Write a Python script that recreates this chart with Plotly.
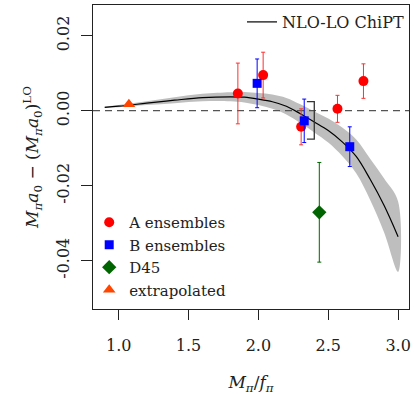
import plotly.graph_objects as go

# ---- data ----
fit_x = [0.9, 1.0, 1.2, 1.4, 1.6, 1.8, 1.9, 2.0, 2.1, 2.2, 2.3, 2.4, 2.5, 2.6, 2.7, 2.8, 2.9, 3.0]
fit_y = [0.0009, 0.0012, 0.0020, 0.0028, 0.0035, 0.0037, 0.0036, 0.0031, 0.0024, 0.0012,
         -0.0008, -0.0030, -0.0053, -0.0083, -0.0122, -0.0183, -0.0253, -0.0336]
fit_err = [0.0002, 0.0003, 0.0005, 0.0008, 0.0010, 0.0012, 0.0014, 0.0016, 0.0019, 0.0022,
           0.0025, 0.0028, 0.0032, 0.0038, 0.0045, 0.0055, 0.0072, 0.0094]

a_x = [1.853, 2.034, 2.306, 2.566, 2.752]
a_y = [0.0046, 0.0095, -0.0043, 0.0005, 0.0079]
a_err = [0.0081, 0.0061, 0.0048, 0.0036, 0.0046]

b_x = [1.991, 2.328, 2.654]
b_y = [0.0073, -0.0027, -0.0096]
b_err = [0.0065, 0.0058, 0.0053]

d_x = [2.436]
d_y = [-0.0271]
d_err = [0.0133]

ext_x = [1.073]
ext_y = [0.0017]

bracket_x = [2.347, 2.400, 2.400, 2.347]
bracket_y = [0.0024, 0.0024, -0.0076, -0.0076]

x_range = [0.816, 3.078]
y_range = [-0.0529, 0.0282]
x_ticks = [1.0, 1.5, 2.0, 2.5, 3.0]
y_ticks = [0.02, 0.0, -0.02, -0.04]
y_ticklabels = ["0.02", "0.00", "-0.02", "-0.04"]

FONT = "DejaVu Serif"

fig = go.Figure()

upper = [y + e for y, e in zip(fit_y, fit_err)]
lower = [y - e for y, e in zip(fit_y, fit_err)]
fig.add_trace(go.Scatter(x=fit_x + fit_x[::-1], y=upper + lower[::-1], fill="toself",
                         fillcolor="#BEBEBE", line=dict(width=0), mode="lines",
                         line_shape="spline", showlegend=False, hoverinfo="skip"))
fig.add_trace(go.Scatter(x=x_range, y=[0, 0], mode="lines",
                         line=dict(color="#555555", width=1.3, dash="7px,5px"),
                         showlegend=False, hoverinfo="skip"))
fig.add_trace(go.Scatter(x=fit_x, y=fit_y, mode="lines", line=dict(color="black", width=1.2),
                         line_shape="spline", name="NLO-LO ChiPT", legend="legend2"))
fig.add_trace(go.Scatter(x=bracket_x, y=bracket_y, mode="lines",
                         line=dict(color="#333333", width=1.3), showlegend=False, hoverinfo="skip"))

fig.add_trace(go.Scatter(x=a_x, y=a_y, mode="markers", name="A ensembles",
                         marker=dict(symbol="circle", size=10, color="#FF0000"),
                         error_y=dict(type="data", array=a_err, color="#FF3030", thickness=1, width=2)))
fig.add_trace(go.Scatter(x=b_x, y=b_y, mode="markers", name="B ensembles",
                         marker=dict(symbol="square", size=9, color="#0000FF"),
                         error_y=dict(type="data", array=b_err, color="#0000FF", thickness=1, width=2)))
fig.add_trace(go.Scatter(x=d_x, y=d_y, mode="markers", name="D45",
                         marker=dict(symbol="diamond", size=11, color="#006400"),
                         error_y=dict(type="data", array=d_err, color="#006400", thickness=1, width=2)))
fig.add_trace(go.Scatter(x=ext_x, y=ext_y, mode="markers", name="extrapolated",
                         marker=dict(symbol="triangle-up", size=11, color="#FF4500")))

fig.update_layout(
    width=414, height=395,
    margin=dict(l=93, r=3, t=5, b=86),
    plot_bgcolor="white", paper_bgcolor="white",
    font=dict(family=FONT, size=15, color="#222222"),
    legend=dict(x=-0.012, xanchor="left", y=0.01, yanchor="bottom",
                bgcolor="rgba(0,0,0,0)", font=dict(size=15), tracegroupgap=0),
    legend2=dict(x=1.0, xanchor="right", y=1.0, yanchor="top",
                 bgcolor="rgba(0,0,0,0)", font=dict(size=16)),
    xaxis=dict(range=x_range, tickvals=x_ticks, ticktext=[f"{v:.1f}" for v in x_ticks],
               showgrid=False, zeroline=False, showline=True, mirror=True,
               linecolor="#222222", linewidth=1, ticks="outside", ticklen=10,
               tickcolor="#222222", ticklabelstandoff=12, tickfont=dict(size=16),
               title=dict(text="<i>M</i><sub><i>π</i></sub>/<i>f</i><sub><i>π</i></sub>",
                          font=dict(size=17), standoff=22)),
    yaxis=dict(range=y_range, tickvals=y_ticks, ticktext=y_ticklabels, tickangle=-90,
               showgrid=False, zeroline=False, showline=True, mirror=True,
               linecolor="#222222", linewidth=1, ticks="outside", ticklen=11,
               tickcolor="#222222", ticklabelstandoff=6, tickfont=dict(size=16),
               title=dict(text="<i>M</i><sub><i>π</i></sub><i>a</i><sub>0</sub> − (<i>M</i><sub><i>π</i></sub><i>a</i><sub>0</sub>)<sup>LO</sup>",
                          font=dict(size=17), standoff=10)),
)

fig.write_html("out.html")
